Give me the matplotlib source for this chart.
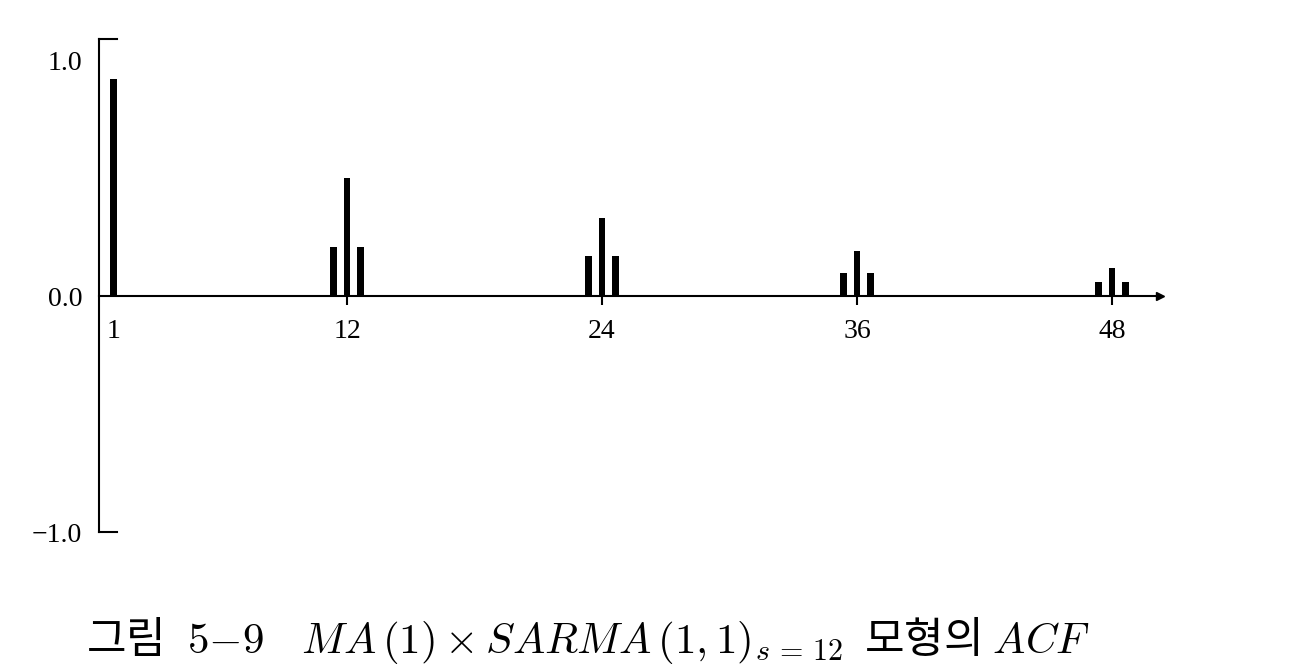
import numpy as np
import matplotlib.pyplot as plt

# ACF values (schematic, lags around each seasonal peak)
lags = np.array([1, 11, 12, 13, 23, 24, 25, 35, 36, 37, 47, 48, 49])
acf = np.array([0.92, 0.21, 0.50, 0.21, 0.17, 0.33, 0.17,
                0.10, 0.19, 0.10, 0.06, 0.12, 0.06])
tick_lags = [1, 12, 24, 36, 48]
ytick_vals = [-1.0, 0.0, 1.0]
ytick_labels = ['\u22121.0', '0.0', '1.0']
caption = ('그림 $\\ 5\\mathrm{-}9\\quad MA\\,(1)\\times SARMA\\,(1,1)_{s\\,=\\,12}$'
           '  모형의 $ACF$')

plt.rcParams['mathtext.fontset'] = 'cm'

W, H = 1300, 672
fig = plt.figure(figsize=(W / 100, H / 100), dpi=100)
ax = fig.add_axes([99 / W, 140 / H, 1061 / W, 493 / H])

# side lags are drawn closer to the seasonal lag, as in the original sketch
season = np.round(lags / 12) * 12
pos = np.where((lags > 1) & (lags % 12 != 0), season + 0.64 * (lags - season), lags)
widths = np.where(lags % 12 == 0, 0.24, 0.32)

ax.bar(pos, acf, width=widths, color='black', zorder=3)

ax.set_xlim(0.33, 50.26)
ax.set_ylim(-1.0, 1.09)

for s in ['top', 'right']:
    ax.spines[s].set_visible(False)
ax.spines['bottom'].set_position(('data', 0))
ax.spines['bottom'].set_linewidth(1.5)
ax.spines['left'].set_linewidth(1.5)

# end caps of the vertical axis and arrow head of the lag axis
ax.plot([0, 0.017], [1.09, 1.09], color='black', lw=1.5,
        transform=ax.get_yaxis_transform(), clip_on=False)
ax.plot([0, 0.017], [-1.0, -1.0], color='black', lw=1.5,
        transform=ax.get_yaxis_transform(), clip_on=False)
ax.plot(1, 0, '>', color='black', markersize=6,
        transform=ax.get_yaxis_transform(), clip_on=False)

ax.set_xticks(tick_lags)
ax.set_xticklabels([str(t) for t in tick_lags], family='Liberation Serif', fontsize=20)
ax.tick_params(axis='x', direction='out', length=6.5, width=1.5, pad=10)
ax.xaxis.get_major_ticks()[0].tick1line.set_visible(False)

ax.set_yticks(ytick_vals)
ax.set_yticklabels(ytick_labels, family='Liberation Serif', fontsize=20)
ax.tick_params(axis='y', length=0, pad=12)

fig.text(588 / W, 1 - 640 / H, caption, ha='center', va='center', fontsize=31,
         fontweight='light', family=['Noto Sans CJK KR', 'DejaVu Sans'])

fig.savefig('out.png', dpi=100)
